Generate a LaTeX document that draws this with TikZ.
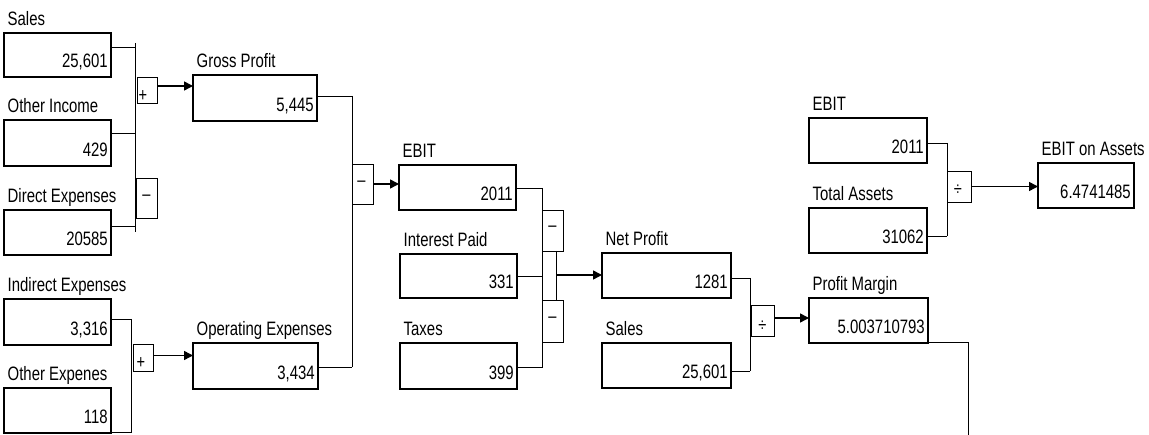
\documentclass[tikz,border=0pt]{standalone}
\usepackage{fontspec}
\setmainfont[FakeStretch=0.77]{Liberation Sans}
\usetikzlibrary{arrows.meta,calc}
\tikzset{
  vbox/.style={draw, line width=1.7pt, inner sep=0pt, outer sep=0pt, anchor=north west},
  opbox/.style={draw, line width=0.8pt, inner sep=0pt, outer sep=0pt, anchor=north west},
  lab/.style={anchor=base west, inner sep=0pt, font=\fontsize{19.4}{21}\selectfont},
  val/.style={anchor=base east, inner sep=0pt, font=\fontsize{19.4}{21}\selectfont},
  sgn/.style={inner sep=0pt, font=\fontsize{19}{20}\selectfont},
  conn/.style={line width=0.8pt},
  arr/.style={line width=1.5pt, -{Triangle[length=9pt,width=9pt]}}
}
\newcommand{\valbox}[7]{% name, x1, y1, x2, y2, label, value
  \node[vbox, minimum width={(#4-#2)*1pt}, minimum height={(#5-#3)*1pt}] (#1) at (#2,#3) {};
  \node[lab] (#1l) at ([xshift=3.5pt,yshift=7pt]#1.north west) {#6};
  \node[val] (#1v) at ([xshift=-3pt,yshift=9pt]#1.south east) {#7};
}
\newcommand{\opnode}[8]{% name, x1, y1, x2, y2, sign, dx, dy
  \node[opbox, minimum width={(#4-#2)*1pt}, minimum height={(#5-#3)*1pt}] (#1) at (#2,#3) {};
  \node[sgn] (#1s) at ([xshift=#7pt,yshift=#8pt]#1.center) {#6};
}
\begin{document}
\begin{tikzpicture}[x=1pt, y=-1pt]
\useasboundingbox (0,0) rectangle (1149,435);

% value boxes
\valbox{sales}{4}{33}{111}{77}{Sales}{25,601}
\valbox{othinc}{4}{120}{111}{166}{Other Income}{429}
\valbox{direxp}{4}{210}{111}{255}{Direct Expenses}{20585}
\valbox{indexp}{4}{299}{111}{345}{Indirect Expenses}{3,316}
\valbox{othexp}{4}{388}{111}{433}{Other Expenes}{118}
\valbox{gross}{193}{75}{317}{121}{Gross Profit}{5,445}
\valbox{opex}{193}{343}{318}{389}{Operating Expenses}{3,434}
\valbox{ebit}{399}{165}{516}{210}{EBIT}{2011}
\valbox{intp}{400}{254}{517}{298}{Interest Paid}{331}
\valbox{taxes}{400}{343}{517}{389}{Taxes}{399}
\valbox{netp}{602}{253}{731}{298}{Net Profit}{1281}
\valbox{salestwo}{602}{343}{731}{388}{Sales}{25,601}
\valbox{pm}{809}{298}{928}{343}{Profit Margin}{5.003710793}
\valbox{ebittwo}{809}{118}{927}{163}{EBIT}{2011}
\valbox{tassets}{809}{208}{927}{253}{Total Assets}{31062}
\valbox{eoa}{1038}{163}{1134}{208}{EBIT on Assets}{6.4741485}

% operator boxes
\opnode{plusa}{137}{77}{157}{103}{+}{-4}{-6}
\opnode{minusa}{136}{178}{157}{218}{–}{0}{0}
\opnode{plusb}{133}{344}{153}{371}{+}{-2}{-6}
\opnode{minusb}{352}{164}{373}{204}{–}{-1}{0}
\opnode{minusc}{542}{210}{563}{251}{–}{0}{2}
\opnode{minusd}{542}{300}{563}{342}{–}{0}{1}
\opnode{diva}{751}{305}{774}{336}{÷}{0}{-6}
\opnode{divb}{947}{171}{971}{202}{÷}{-1}{-4}

% bus coordinates
\coordinate (b1t) at (135,43);  \coordinate (b1b) at (135,232);
\coordinate (b2t) at (131,319); \coordinate (b2b) at (131,410);
\coordinate (b3t) at (352,96);  \coordinate (b3b) at (352,367);
\coordinate (b4t) at (542,188); \coordinate (b4b) at (542,368);
\coordinate (b5t) at (750,278); \coordinate (b5b) at (750,371);
\coordinate (b6t) at (947,143); \coordinate (b6b) at (947,236);
\coordinate (j4) at (556,275);
\coordinate (pmend) at (968,435);

% buses
\draw[conn] (b1t) -- (b1b);
\draw[conn] (b2t) -- (b2b);
\draw[conn] (b3t) -- (b3b);
\draw[conn] (b4t) -- (b4b);
\draw[conn] (b5t) -- (b5b);
\draw[conn] (b6t) -- (b6b);

% inputs to buses
\draw[conn] ([yshift=8pt]sales.east) -| (b1t);
\draw[conn] ([yshift=10pt]othinc.east) -| (b1t);
\draw[conn] ([yshift=6.5pt]direxp.east) -| (b1b);
\draw[conn] ([yshift=3pt]indexp.east) -| (b2t);
\draw[conn] ([yshift=0.5pt]othexp.south east) -| (b2b);
\draw[conn] ([yshift=2pt]gross.east) -| (b3t);
\draw[conn] ([yshift=-1pt]opex.east) -| (b3b);
\draw[conn] ([yshift=-0.5pt]ebit.east) -| (b4t);
\draw[conn] (intp.east) -| (b4t);
\draw[conn] ([yshift=-1pt]taxes.east) -| (b4b);
\draw[conn] ([yshift=-2.5pt]netp.east) -| (b5t);
\draw[conn] ([yshift=-5.5pt]salestwo.east) -| (b5b);
\draw[conn] ([yshift=-2.5pt]ebittwo.east) -| (b6t);
\draw[conn] ([yshift=-5.5pt]tassets.east) -| (b6b);
\draw[conn] (j4 |- minusc.south) -- (j4 |- minusd.north);

% outputs
\coordinate (pa) at ([yshift=4pt]plusa.east);
\draw[arr] (pa) -- (pa -| gross.west);
\coordinate (pb) at ([yshift=2pt]plusb.east);
\draw[arr] (pb) -- (pb -| opex.west);
\draw[arr] (minusb.east) -- (minusb.east -| ebit.west);
\draw[arr] (j4) -- (j4 -| netp.west);
\coordinate (da) at ([yshift=2.5pt]diva.east);
\draw[arr] (da) -- (da -| pm.west);
\draw[arr] (divb.east) -- (divb.east -| eoa.west);
\draw[conn] ([yshift=1pt]pm.south east) -| (pmend);
\end{tikzpicture}
\end{document}
